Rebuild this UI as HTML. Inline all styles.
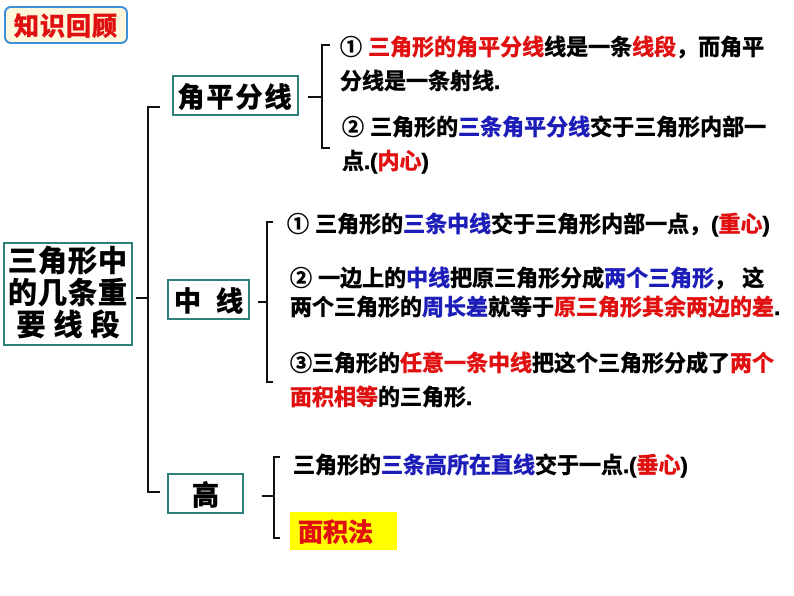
<!DOCTYPE html>
<html><head><meta charset="utf-8"><style>
body{margin:0;width:794px;height:596px;background:#fff;position:relative;overflow:hidden;font-family:"Liberation Sans","Noto Sans CJK SC",sans-serif;font-weight:bold;}
.t{position:absolute;white-space:nowrap;font-size:22px;line-height:26px;color:#000;font-weight:bold;-webkit-text-stroke:0.6px currentColor;}
.r{color:#e01010}.b{color:#1c1cb8}
.box{position:absolute;border:2px solid #2f7f7a;box-sizing:border-box;display:flex;align-items:center;justify-content:center;font-weight:bold;color:#000;-webkit-text-stroke:0.8px #000;}
svg{position:absolute;left:0;top:0}
</style></head><body>
<div style="position:absolute;left:4px;top:6px;width:124px;height:38px;box-sizing:border-box;border:2px solid #3c8fd8;border-radius:7px;background:#fdf8dc;color:#e01010;font-size:25px;display:flex;align-items:center;justify-content:center;letter-spacing:1px;-webkit-text-stroke:0.8px #e01010">知识回顾</div>

<div class="box" style="left:3px;top:242px;width:130px;height:104px;font-size:29px;line-height:32px;text-align:center;flex-direction:column">
<div style="letter-spacing:1px">三角形中</div><div style="letter-spacing:1px">的几条重</div><div>要&nbsp;线&nbsp;段</div></div>
<div class="box" style="left:172px;top:75px;width:127px;height:41px;font-size:27px;letter-spacing:2px">角平分线</div>
<div class="box" style="left:167px;top:279px;width:83px;height:41px;font-size:27px">中&nbsp;&nbsp;线</div>
<div class="box" style="left:167px;top:473px;width:77px;height:41px;font-size:27px">高</div>

<svg width="794" height="596" fill="none" stroke="#111" stroke-width="2">
<path d="M160 107 H148 V492 H160"/>
<path d="M136 298 H148"/>
<path d="M330 45 H322 V148 H330"/>
<path d="M308 97 H322"/>
<path d="M273 222 H267 V382 H273"/>
<path d="M258 302 H267"/>
<path d="M280 457 H274 V538 H280"/>
<path d="M262 496 H274"/>
</svg>

<div class="t" style="left:340px;top:35px">① <span class="r">三角形的角平分线</span>线是一条<span class="r">线段</span>，而角平</div>
<div class="t" style="left:340px;top:69px">分线是一条射线.</div>
<div class="t" style="left:342px;top:115px">② 三角形的<span class="b">三条角平分线</span>交于三角形内部一</div>
<div class="t" style="left:342px;top:149px">点.(<span class="r">内心</span>)</div>

<div class="t" style="left:287px;top:212px">① 三角形的<span class="b">三条中线</span>交于三角形内部一点，(<span class="r">重心</span>)</div>
<div class="t" style="left:290px;top:266px">② 一边上的<span class="b">中线</span>把原三角形分成<span class="b">两个三角形</span>， 这</div>
<div class="t" style="left:290px;top:295px">两个三角形的<span class="b">周长差</span>就等于<span class="r">原三角形其余两边的差</span>.</div>
<div class="t" style="left:290px;top:351px">③三角形的<span class="r">任意一条中线</span>把这个三角形分成了<span class="r">两个</span></div>
<div class="t" style="left:290px;top:385px"><span class="r">面积相等</span>的三角形.</div>

<div class="t" style="left:293px;top:453px">三角形的<span class="b">三条高所在直线</span>交于一点.(<span class="r">垂心</span>)</div>
<div style="position:absolute;left:290px;top:512px;width:107px;height:38px;background:#ffff00;color:#e01010;font-size:25px;font-weight:bold;display:flex;align-items:center;padding-left:8px;box-sizing:border-box;-webkit-text-stroke:0.8px #e01010">面积法</div>
</body></html>
